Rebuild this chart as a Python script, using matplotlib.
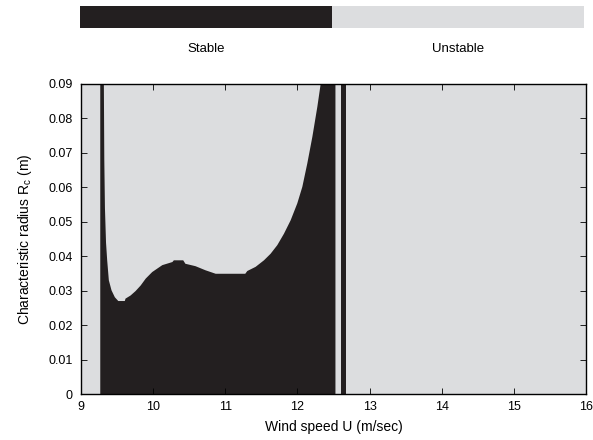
import numpy as np
import matplotlib
matplotlib.use('Agg')
import matplotlib.pyplot as plt
from matplotlib.colors import ListedColormap

plt.rcParams['font.family'] = ['Liberation Sans', 'DejaVu Sans']
plt.rcParams['mathtext.default'] = 'regular'

# stability boundary: below the curve the system is stable
stable_u = [9.26, 9.31, 9.316, 9.325, 9.340, 9.356, 9.379, 9.416, 9.462, 9.51, 9.60,
            9.61, 9.68, 9.75, 9.82, 9.89, 9.98, 10.12, 10.26, 10.28, 10.41,
            10.44, 10.58, 10.72, 10.86, 11.27, 11.298, 11.413, 11.529, 11.621,
            11.714, 11.806, 11.899, 11.991, 12.061, 12.130, 12.200, 12.269,
            12.315, 12.52]
stable_rc = [0.09, 0.09, 0.0680, 0.0540, 0.0440, 0.0389, 0.0331, 0.0302, 0.0282, 0.0271, 0.0271,
             0.0278, 0.0287, 0.0300, 0.0316, 0.0336, 0.0355, 0.0375, 0.0384, 0.0389, 0.0389,
             0.0379, 0.0372, 0.0360, 0.0350, 0.0350, 0.0358, 0.0370, 0.0389, 0.0408,
             0.0433, 0.0466, 0.0505, 0.0554, 0.0602, 0.0670, 0.0747, 0.0834,
             0.09, 0.09]
# narrow stable band just above 12.5 m/s
band_u = [12.60, 12.68]
band_rc = [0.09, 0.09]

states = ['Stable', 'Unstable']
xticks = [9, 10, 11, 12, 13, 14, 15, 16]
yticks = [0, 0.01, 0.02, 0.03, 0.04, 0.05, 0.06, 0.07, 0.08, 0.09]

dark = '#231f20'
light = '#dcdddf'

fig = plt.figure(figsize=(5.93, 4.40), dpi=100)

ax = fig.add_axes([0.1366, 0.1045, 0.8516, 0.7057])
ax.set_facecolor(light)
ax.fill_between(stable_u, 0, stable_rc, color=dark, lw=0)
ax.fill_between(band_u, 0, band_rc, color=dark, lw=0)
ax.set_xlim(9, 16)
ax.set_ylim(0, 0.09)
ax.set_xticks(xticks)
ax.set_yticks(yticks)
ax.set_yticklabels(['0' if t == 0 else '%.2f' % t for t in yticks])
ax.tick_params(direction='in', length=4, width=0.6, top=True, right=True,
               labelsize=9, colors='black')
ax.tick_params(axis='x', pad=5)
ax.tick_params(axis='y', pad=6)
for s in ax.spines.values():
    s.set_linewidth(1.0)
    s.set_color('black')
ax.set_xlabel('Wind speed U (m/sec)', fontsize=10, labelpad=5)
ax.set_ylabel('Characteristic radius R$_c$ (m)', fontsize=10, labelpad=10)

# two-state colour key above the map
cax = fig.add_axes([80 / 593, 1 - 28 / 440, 504 / 593, 22 / 440])
cax.imshow([[0, 1]], cmap=ListedColormap([dark, light]), aspect='auto',
           extent=[0, 2, 0, 1])
cax.set_axis_off()
for i, name in enumerate(states):
    cax.text(i + 0.5, -0.95, name, ha='center', va='center', fontsize=9.5,
             transform=cax.transData)

fig.savefig('out.png', dpi=100)
